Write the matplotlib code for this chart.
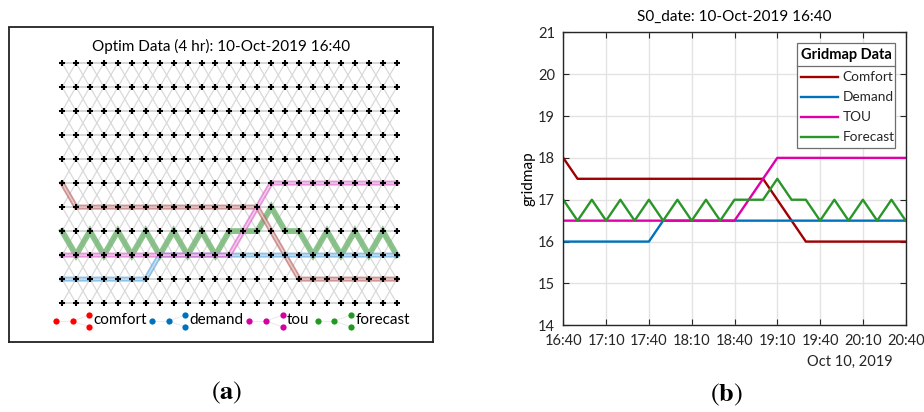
import numpy as np
import pandas as pd
import matplotlib
matplotlib.use("Agg")
import matplotlib.pyplot as plt
import matplotlib.dates as mdates
from matplotlib.collections import LineCollection
from matplotlib.patches import Rectangle

plt.rcParams["font.family"] = ["Lato", "DejaVu Sans"]
plt.rcParams["mathtext.fontset"] = "stix"

# %%
# Data: 10 minute steps over the 4 hr optimisation horizon
times = pd.date_range("2019-10-10 16:40", periods=25, freq="10min")
steps = np.arange(len(times))

comfort = [18.0, 17.5, 17.5, 17.5, 17.5, 17.5, 17.5, 17.5, 17.5, 17.5, 17.5, 17.5, 17.5,
           17.5, 17.5, 17.0, 16.5, 16.0, 16.0, 16.0, 16.0, 16.0, 16.0, 16.0, 16.0]
demand = [16.0, 16.0, 16.0, 16.0, 16.0, 16.0, 16.0, 16.5, 16.5, 16.5, 16.5, 16.5, 16.5,
          16.5, 16.5, 16.5, 16.5, 16.5, 16.5, 16.5, 16.5, 16.5, 16.5, 16.5, 16.5]
tou = [16.5, 16.5, 16.5, 16.5, 16.5, 16.5, 16.5, 16.5, 16.5, 16.5, 16.5, 16.5, 16.5,
       17.0, 17.5, 18.0, 18.0, 18.0, 18.0, 18.0, 18.0, 18.0, 18.0, 18.0, 18.0]
forecast = [17.0, 16.5, 17.0, 16.5, 17.0, 16.5, 17.0, 16.5, 17.0, 16.5, 17.0, 16.5, 17.0,
            17.0, 17.0, 17.5, 17.0, 17.0, 16.5, 17.0, 16.5, 17.0, 16.5, 17.0, 16.5]

# gridmap levels (rows of the lattice)
grid_levels = [15.5, 16.0, 16.5, 17.0, 17.5, 18.0, 18.5, 19.0, 19.5, 20.0, 20.5]

names = ["Comfort", "Demand", "TOU", "Forecast"]
legend_names = ["comfort", "demand", "tou", "forecast"]
series = [comfort, demand, tou, forecast]
line_colors = ["#a00000", "#0072bd", "#e000a8", "#2a962a"]
path_colors = ["#c07070", "#6aaee0", "#e070d0", "#78b878"]
dot_colors = ["#ff0000", "#0072bd", "#d400a0", "#229922"]

fig = plt.figure(figsize=(9.24, 4.12), dpi=100)
W, H = 924, 412


def px_axes(x0, y0, x1, y1, **kw):
    return fig.add_axes([x0 / W, 1 - y1 / H, (x1 - x0) / W, (y1 - y0) / H], **kw)


# %%
# (a) lattice of the optimisation graph
axa = px_axes(8.5, 27.5, 433, 342)
axa.set_xlim(-3.84, 26.6)
axa.set_ylim(14.69, 21.24)
axa.set_xticks([])
axa.set_yticks([])
for s in axa.spines.values():
    s.set_color("#222222")
    s.set_linewidth(1.3)

flat, diag = [], []
for i in steps[:-1]:
    for j, lv in enumerate(grid_levels):
        flat.append([(i, lv), (i + 1, lv)])
        if j + 1 < len(grid_levels):
            diag.append([(i, lv), (i + 1, grid_levels[j + 1])])
        if j > 0:
            diag.append([(i, lv), (i + 1, grid_levels[j - 1])])
axa.add_collection(LineCollection(diag, colors="#d9d9d9", linewidths=0.9, zorder=1))
axa.add_collection(LineCollection(flat, colors="#d0d0d0", linewidths=1.2, zorder=1))

for k, (vals, pc) in enumerate(zip(series, path_colors)):
    if k == 3:
        axa.plot(steps, vals, color=pc, lw=4.2, alpha=0.85, zorder=2,
                 solid_joinstyle="miter")
    else:
        axa.plot(steps, vals, color=pc, lw=3.6, alpha=0.75, zorder=3)
        axa.plot(steps, vals, color="white", lw=1.0, alpha=0.6, zorder=3)

gx, gy = np.meshgrid(steps, grid_levels)
axa.plot(gx.ravel(), gy.ravel(), "+", color="black", ms=4.2, mew=1.5, zorder=4,
         linestyle="none")
axa.text(0.5, 0.94, "Optim Data (4 hr): 10-Oct-2019 16:40", transform=axa.transAxes,
         ha="center", va="center", fontsize=11)

# %%
# (b) gridmap time series
axb = px_axes(563.3, 32.3, 905.7, 325.3)
for vals, c, n in zip(series, line_colors, names):
    axb.plot(times, vals, color=c, lw=1.7, label=n)
axb.set_xlim(times[0], times[-1])
axb.set_ylim(14, 21)
axb.set_yticks([14, 15, 16, 17, 18, 19, 20, 21])
axb.set_xticks(times[::3])
axb.xaxis.set_major_formatter(mdates.DateFormatter("%H:%M"))
axb.grid(True, color="#e3e3e3", lw=1.0)
axb.tick_params(direction="in", top=True, right=True, length=4, width=0.8,
                labelsize=10.5, colors="#262626", pad=6)
for s in axb.spines.values():
    s.set_color("#262626")
    s.set_linewidth(1.0)
axb.set_title("S0_date: 10-Oct-2019 16:40", fontsize=11, pad=8)
axb.set_ylabel("gridmap", fontsize=11, labelpad=2)

# %%
# overlay in pixel coordinates for labels and legends
ov = fig.add_axes([0, 0, 1, 1], zorder=5)
ov.set_xlim(0, W)
ov.set_ylim(H, 0)
ov.axis("off")
ov.patch.set_alpha(0)

# left legend: graph-style keys
key_x = [56, 152, 249.3, 317.7]
for x0, nm, dc in zip(key_x, legend_names, dot_colors):
    xs = [x0, x0 + 16.7, x0 + 33.4]
    ov.plot([xs[0], xs[1]], [321, 321], color="#ececec", lw=0.8, zorder=1)
    ov.plot([xs[1], xs[2]], [321, 315], color="#ececec", lw=0.8, zorder=1)
    ov.plot([xs[1], xs[2]], [321, 327], color="#ececec", lw=0.8, zorder=1)
    ov.plot([xs[0], xs[1], xs[2], xs[2]], [321, 321, 315, 327], "o", color=dc,
            ms=4.5, mec="none", zorder=2)
    ov.text(xs[2] + 4, 320, nm, ha="left", va="center", fontsize=11)

# right legend
ov.add_patch(Rectangle((796.7, 43.3), 98.6, 105, facecolor="white",
                       edgecolor="#6e6e6e", lw=0.9, zorder=1))
ov.plot([796.7, 895.3], [66, 66], color="#6e6e6e", lw=0.9, zorder=2)
ov.text(846, 54.8, "Gridmap Data", ha="center", va="center", fontsize=10.5,
        fontweight="bold", zorder=3)
for k, (nm, c) in enumerate(zip(names, line_colors)):
    yy = 77.3 + 20 * k
    ov.plot([800.7, 838.3], [yy, yy], color=c, lw=1.7, zorder=3)
    ov.text(842.7, yy, nm, ha="left", va="center", fontsize=9.8, color="#262626",
            zorder=3)

ov.text(893, 362, "Oct 10, 2019", ha="right", va="center", fontsize=10.5,
        color="#262626")
ov.text(226.7, 393, r"$(\mathbf{a})$", ha="center", va="center", fontsize=19)
ov.text(726.7, 395, r"$(\mathbf{b})$", ha="center", va="center", fontsize=19)

fig.savefig("out.png", dpi=100)
